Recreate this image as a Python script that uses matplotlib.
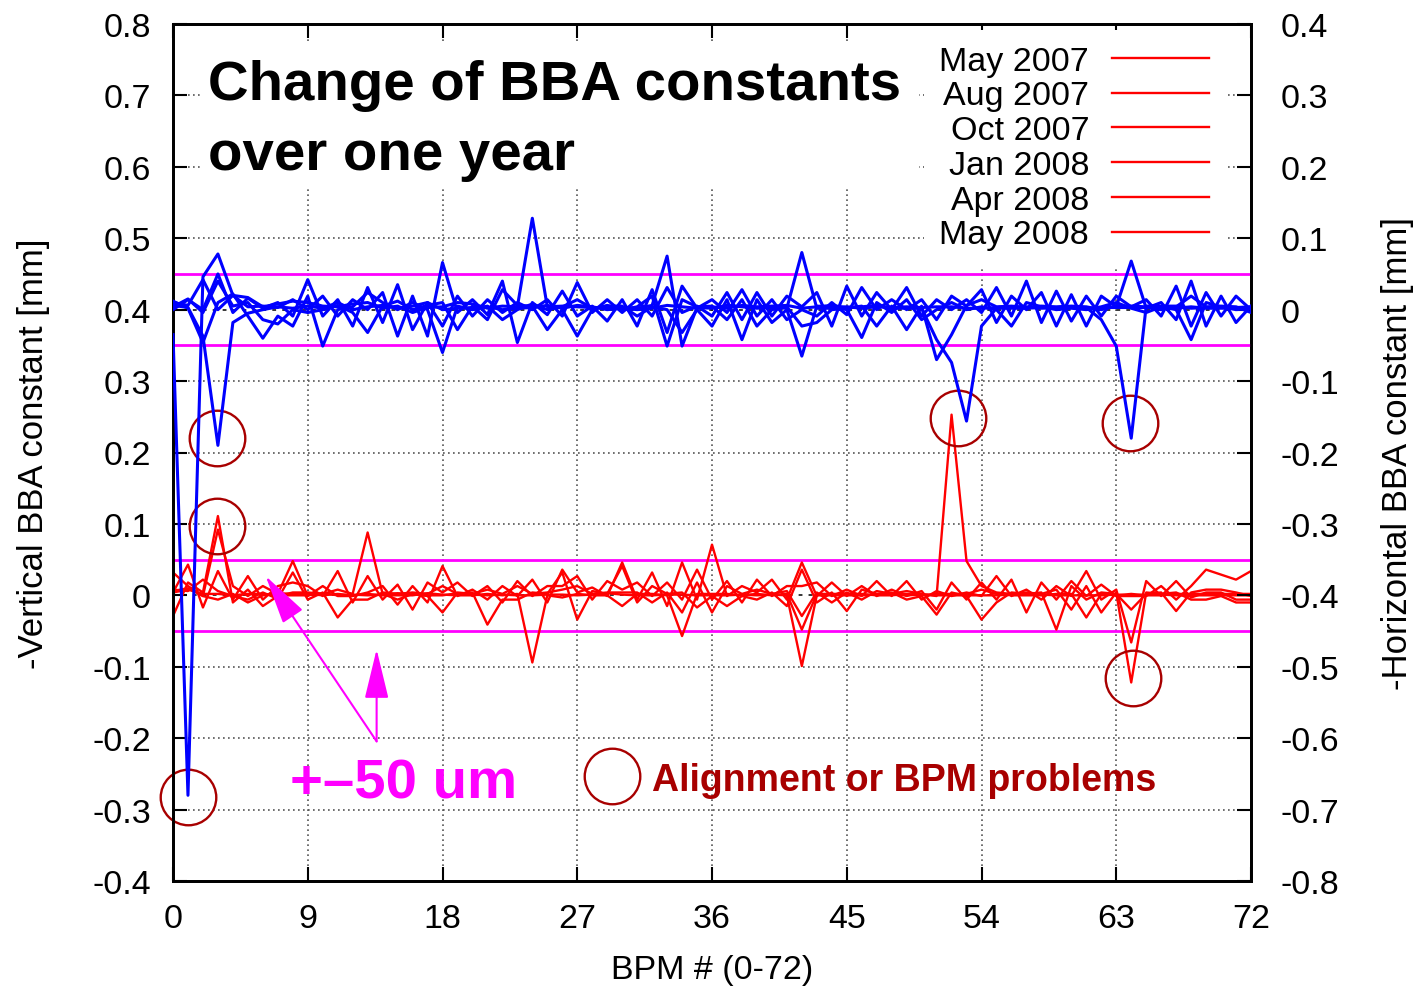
import numpy as np
import matplotlib
matplotlib.use("Agg")
import matplotlib.pyplot as plt
from matplotlib.patches import Rectangle

plt.rcParams["font.family"] = ["Liberation Sans", "DejaVu Sans"]
plt.rcParams["axes.unicode_minus"] = False

# BPM index along the ring
bpm = np.arange(73)

labels = ["May 2007", "Aug 2007", "Oct 2007", "Jan 2008", "Apr 2008", "May 2008"]

# -Vertical BBA constants [mm] (left axis)
vert_may07 = [0.032, 0.013, -0.001, 0.092, 0.013, -0.001, 0.013, 0.002, 0.048, -0.001,
              0.013, -0.001, -0.001, 0.004, 0.013, -0.013, 0.013, -0.010, 0.041, -0.001,
              0.008, -0.006, 0.013, -0.001, 0.022, -0.010, 0.036, 0.004, 0.011, -0.001,
              0.046, -0.006, 0.032, -0.015, 0.046, -0.006, 0.071, -0.001, 0.013, 0.004,
              0.022, -0.006, 0.046, -0.001, 0.018, -0.001, 0.013, -0.001, 0.008, -0.001,
              0.006, -0.020, 0.018, -0.006, 0.018, -0.006, 0.022, -0.024, 0.018, -0.006,
              0.020, -0.001, 0.015, -0.001, -0.001, -0.001, 0.013, -0.006, 0.013, 0.036,
              0.029, 0.022, 0.034]
vert_aug07 = [0.008, 0.006, 0.022, 0.006, -0.001, -0.006, 0.004, -0.005, 0.032, -0.006,
              0.004, -0.031, -0.006, -0.006, 0.004, 0.002, 0.004, 0.002, 0.013, 0.002,
              0.004, -0.041, -0.006, -0.006, 0.004, 0.002, 0.032, -0.034, 0.006, 0.002,
              0.041, -0.010, 0.013, 0.002, 0.004, -0.017, -0.001, -0.015, -0.001, -0.006,
              0.004, -0.015, 0.036, -0.010, 0.004, -0.022, 0.008, 0.002, 0.004, -0.006,
              -0.001, -0.027, 0.004, -0.001, -0.034, -0.010, 0.004, 0.002, 0.004, -0.048,
              0.013, -0.006, 0.004, 0.002, -0.020, 0.002, 0.004, -0.022, 0.004, 0.008,
              0.008, 0.004, -0.001]
vert_oct07 = [0.004, 0.043, -0.017, 0.034, -0.006, 0.027, -0.006, 0.013, 0.018, 0.013,
              -0.001, 0.034, -0.010, 0.027, -0.006, 0.015, -0.020, 0.018, 0.004, 0.018,
              -0.001, 0.013, -0.010, 0.020, -0.001, 0.013, 0.013, 0.027, -0.006, 0.020,
              0.008, 0.018, -0.001, 0.018, -0.006, 0.036, -0.006, 0.020, -0.010, 0.022,
              -0.001, 0.013, 0.013, 0.018, -0.001, 0.008, -0.001, 0.020, -0.001, 0.020,
              -0.006, 0.006, -0.001, 0.004, -0.001, 0.027, -0.001, 0.008, -0.006, 0.013,
              -0.001, 0.034, -0.006, 0.008, -0.066, 0.020, -0.001, 0.020, -0.003, 0.004,
              0.004, -0.006, -0.006]
vert_jan08 = [-0.029, 0.018, 0.004, 0.111, -0.010, 0.008, -0.015, -0.001, 0.004, 0.004,
              0.002, 0.008, 0.002, 0.088, 0.002, -0.006, 0.002, -0.001, -0.024, 0.004,
              0.002, 0.008, 0.002, 0.013, 0.002, 0.004, 0.008, 0.013, 0.002, 0.004,
              0.004, 0.004, -0.010, 0.004, -0.024, 0.018, -0.024, 0.013, 0.002, 0.008,
              0.002, 0.006, -0.029, 0.004, -0.010, 0.004, -0.006, 0.006, 0.002, 0.006,
              0.002, -0.001, 0.253, 0.048, 0.013, 0.004, 0.002, 0.004, 0.002, 0.008,
              -0.020, 0.013, -0.024, 0.004, -0.122, 0.004, 0.002, 0.004, -0.006, -0.006,
              -0.001, -0.010, -0.010]
vert_apr08 = [0.006, 0.010, -0.001, -0.006, 0.002, -0.010, 0.000, 0.003, 0.002, 0.002,
              0.000, 0.002, 0.000, 0.002, 0.000, 0.000, 0.000, 0.003, 0.001, 0.000,
              0.000, 0.002, 0.000, 0.002, -0.094, 0.000, -0.003, 0.002, 0.000, 0.000,
              -0.015, 0.002, 0.002, 0.000, -0.057, 0.002, 0.002, 0.002, 0.000, 0.002,
              0.000, 0.002, -0.048, 0.002, 0.002, 0.002, 0.002, 0.000, 0.000, 0.002,
              0.000, 0.002, 0.002, 0.002, 0.008, 0.002, 0.000, 0.000, 0.000, 0.002,
              0.002, -0.031, 0.002, 0.000, 0.002, 0.000, 0.000, 0.002, 0.002, 0.002,
              0.002, 0.002, 0.002]
vert_may08 = [0.004, 0.008, 0.002, 0.002, 0.000, 0.002, 0.002, 0.000, 0.000, 0.000,
              0.003, 0.000, 0.001, 0.000, 0.001, 0.003, 0.001, 0.000, 0.000, 0.003,
              0.001, 0.000, 0.001, 0.000, 0.000, 0.001, 0.001, 0.000, 0.001, 0.003,
              0.001, 0.000, 0.000, 0.001, 0.001, 0.000, 0.000, 0.000, 0.001, 0.000,
              0.001, 0.000, -0.099, 0.000, 0.000, 0.000, 0.000, 0.001, 0.001, 0.000,
              0.001, 0.000, 0.000, 0.000, 0.000, 0.000, 0.001, 0.001, 0.001, 0.000,
              0.000, 0.000, 0.000, 0.001, 0.000, 0.001, 0.001, 0.000, 0.000, 0.000,
              0.000, 0.000, 0.000]

# -Horizontal BBA constants [mm] (right axis)
horz_may07 = [0.010, 0.006, 0.042, 0.000, 0.020, 0.004, 0.005, 0.003, 0.014, 0.000,
              0.019, -0.009, 0.014, 0.000, 0.024, -0.037, 0.019, -0.037, 0.066, -0.004,
              0.014, -0.007, 0.040, -0.046, 0.010, -0.007, 0.026, -0.009, 0.005, -0.016,
              0.014, -0.023, 0.028, -0.032, 0.033, 0.002, 0.014, -0.004, 0.028, -0.009,
              0.014, -0.014, 0.000, -0.009, 0.010, -0.007, 0.031, 0.000, 0.014, 0.000,
              0.014, -0.014, 0.019, 0.005, 0.028, -0.018, 0.019, 0.000, 0.024, -0.023,
              0.021, -0.023, 0.019, 0.004, 0.068, 0.002, 0.010, -0.014, 0.040, -0.023,
              0.019, -0.018, 0.005]
horz_aug07 = [0.004, 0.015, -0.004, 0.040, 0.005, 0.010, -0.014, -0.020, 0.000, -0.004,
              0.000, 0.006, -0.004, -0.032, 0.005, 0.012, 0.000, 0.006, 0.010, -0.028,
              0.005, -0.014, 0.028, 0.006, 0.005, -0.028, 0.000, -0.037, 0.000, 0.006,
              0.000, 0.004, 0.019, -0.051, 0.014, 0.004, 0.005, -0.014, 0.014, -0.023,
              0.000, 0.004, -0.023, -0.018, 0.000, 0.002, 0.005, -0.023, 0.005, -0.028,
              0.005, -0.070, -0.035, 0.006, 0.014, 0.004, 0.005, 0.003, 0.005, 0.004,
              0.005, 0.004, 0.000, 0.005, 0.005, 0.004, 0.000, 0.004, 0.019, 0.004,
              0.005, 0.004, -0.004]
horz_oct07 = [0.000, 0.014, 0.000, 0.050, -0.004, 0.016, 0.002, 0.010, -0.009, 0.042,
              -0.009, 0.014, -0.023, 0.031, -0.018, 0.035, -0.028, 0.010, -0.023, 0.019,
              -0.009, 0.014, -0.004, 0.010, 0.000, 0.014, -0.009, 0.038, -0.004, 0.014,
              -0.004, 0.014, -0.009, 0.031, -0.004, 0.005, -0.009, 0.024, -0.014, 0.024,
              -0.009, 0.019, 0.004, 0.024, -0.023, 0.033, -0.009, 0.024, 0.000, 0.031,
              -0.009, 0.014, 0.000, 0.014, -0.004, 0.031, -0.009, 0.040, -0.018, 0.026,
              -0.016, 0.019, -0.009, 0.019, 0.004, 0.014, -0.009, 0.033, -0.023, 0.024,
              -0.009, 0.019, 0.000]
horz_jan08 = [0.012, 0.002, -0.046, 0.010, 0.022, -0.009, -0.040, -0.009, -0.023, 0.019,
              -0.051, 0.000, 0.004, 0.024, 0.010, 0.000, 0.010, 0.000, -0.060, 0.005,
              0.000, 0.005, -0.014, 0.000, 0.008, 0.000, 0.004, 0.014, 0.002, 0.005,
              0.005, -0.009, 0.004, 0.000, -0.032, 0.000, -0.023, 0.014, -0.042, 0.014,
              -0.018, 0.000, -0.065, 0.005, 0.004, 0.000, -0.039, 0.010, -0.004, 0.014,
              -0.014, 0.000, 0.010, 0.000, 0.004, 0.000, -0.023, 0.010, 0.004, 0.000,
              0.002, 0.000, 0.004, 0.010, 0.002, -0.004, 0.004, 0.000, -0.042, 0.010,
              0.004, 0.000, 0.002]
horz_apr08 = [-0.035, -0.680, 0.046, 0.078, 0.020, 0.017, 0.004, 0.008, 0.012, 0.010,
              0.005, 0.004, 0.008, 0.010, 0.002, 0.005, -0.004, 0.003, 0.004, 0.010,
              0.008, 0.002, 0.005, 0.004, 0.128, 0.004, 0.005, 0.004, 0.003, 0.002,
              0.003, 0.002, 0.006, 0.075, -0.051, 0.003, 0.002, 0.006, 0.004, 0.002,
              0.003, 0.002, 0.080, 0.002, 0.002, 0.004, 0.002, 0.004, 0.003, 0.004,
              0.003, 0.004, 0.004, 0.002, 0.002, 0.003, 0.004, 0.004, 0.002, 0.003,
              0.004, 0.002, 0.003, 0.003, 0.003, 0.003, 0.002, 0.002, 0.004, 0.002,
              0.002, 0.002, 0.003]
horz_may08 = [0.006, 0.003, -0.037, -0.190, -0.018, -0.005, 0.000, 0.004, 0.002, 0.005,
              0.002, 0.010, 0.000, 0.004, 0.006, 0.002, 0.005, 0.010, 0.000, 0.002,
              0.003, 0.004, 0.000, 0.002, 0.003, 0.006, 0.002, 0.006, 0.004, 0.000,
              0.002, 0.000, 0.002, 0.006, 0.004, 0.002, 0.004, 0.002, 0.006, 0.004,
              0.005, 0.006, 0.002, 0.004, 0.006, 0.003, 0.004, 0.006, 0.002, 0.002,
              0.002, -0.042, -0.074, -0.156, -0.023, 0.002, 0.002, 0.002, 0.003, 0.002,
              0.003, 0.003, -0.014, -0.051, -0.180, 0.005, 0.005, 0.005, 0.002, 0.003,
              0.003, 0.003, 0.004]

vertical = [vert_may07, vert_aug07, vert_oct07, vert_jan08, vert_apr08, vert_may08]
horizontal = [horz_may07, horz_aug07, horz_oct07, horz_jan08, horz_apr08, horz_may08]

# tolerance band +-50 um
tolerance = 0.05

# suspicious BPMs, marked with circles (left-axis coordinates)
problem_bpm = [1.0, 2.95, 2.95, 52.4, 63.9, 64.1]
problem_val = [-0.283, 0.221, 0.097, 0.249, 0.241, -0.116]

x_ticks = list(range(0, 73, 9))
left_ticks = [round(-0.4 + 0.1 * i, 1) + 0.0 for i in range(13)]
right_ticks = [round(-0.8 + 0.1 * i, 1) + 0.0 for i in range(13)]

RED = "#ff0000"
BLUE = "#0000ff"
MAGENTA = "#ff00ff"
DARKRED = "#a80000"

fig = plt.figure(figsize=(14.16, 9.87), dpi=100)
ax = fig.add_axes([173 / 1416, 105 / 987, 1078 / 1416, 857 / 987])
ax2 = ax.twinx()

ax.set_xlim(0, 72)
ax.set_ylim(-0.4, 0.8)
ax2.set_ylim(-0.8, 0.4)

# dotted grid
grid_kw = dict(color="#555555", lw=1.2, ls=(0, (1, 2)), zorder=0.5)
for xt in x_ticks[1:-1]:
    ax.axvline(xt, **grid_kw)
for yt in left_ticks[1:-1]:
    if abs(yt) < 1e-9 or abs(yt - 0.4) < 1e-9:
        continue
    ax.axhline(yt, **grid_kw)
# zero axes of both y scales
ax.axhline(0.0, color="black", lw=1.1, ls=(0, (2.5, 4)), zorder=0.6)
ax2.axhline(0.0, color="black", lw=1.1, ls=(0, (2.5, 4)), zorder=0.6)

# tolerance bands
ax.axhline(tolerance, color=MAGENTA, lw=2.0, zorder=1)
ax.axhline(-tolerance, color=MAGENTA, lw=2.0, zorder=1)
ax2.axhline(tolerance, color=MAGENTA, lw=2.0, zorder=1)
ax2.axhline(-tolerance, color=MAGENTA, lw=2.0, zorder=1)

handles = []
for series, lab in zip(vertical, labels):
    h, = ax.plot(bpm, series, color=RED, lw=1.7, zorder=2, label=lab)
    handles.append(h)
for series in horizontal:
    ax2.plot(bpm, series, color=BLUE, lw=2.2, zorder=3)

# circles around problematic readings
ax.plot(problem_bpm, problem_val, ls="none", marker="o", ms=40, mfc="none",
        mec=DARKRED, mew=1.7, zorder=4, clip_on=False)

# title block on an opaque background
ax.add_patch(Rectangle((0.025, 0.808), 0.667, 0.172, transform=ax.transAxes,
                       facecolor="white", edgecolor="none", zorder=5))
ax.text(2.35, 0.695, "Change of BBA constants", fontsize=40.6, fontweight="bold",
        color="black", ha="left", va="baseline", zorder=6)
ax.text(2.35, 0.597, "over one year", fontsize=40.6, fontweight="bold",
        color="black", ha="left", va="baseline", zorder=6)

ax.text(7.8, -0.283, "+\u201350 um", fontsize=40.6, fontweight="bold", color=MAGENTA,
        ha="left", va="baseline", zorder=6)
arrow_kw = dict(arrowstyle="-|>,head_length=31,head_width=7.5", mutation_scale=1,
                color=MAGENTA, lw=1.5, shrinkA=0, shrinkB=0)
ax.annotate("", xy=(6.19, 0.027), xytext=(13.6, -0.2045), arrowprops=arrow_kw, zorder=6)
ax.annotate("", xy=(13.6, -0.0756), xytext=(13.6, -0.2045), arrowprops=arrow_kw, zorder=6)

ax.plot([29.33], [-0.2535], ls="none", marker="o", ms=40, mfc="none", mec=DARKRED,
        mew=1.7, zorder=4)
ax.text(32.0, -0.273, "Alignment or BPM problems", fontsize=27, fontweight="bold",
        color=DARKRED, ha="left", va="baseline", zorder=6)

# legend
leg = ax.legend(handles=handles, loc="upper right",
                bbox_to_anchor=(1.0 - 6 / 1078, 1.0 + 14 / 857),
                markerfirst=False, fontsize=24.5, frameon=True, fancybox=False,
                framealpha=1.0, edgecolor="none", facecolor="white",
                handlelength=2.85, handletextpad=0.68, labelspacing=0.11,
                borderpad=0.45, borderaxespad=0.6)
leg.set_zorder(7)
for ln in leg.get_lines():
    ln.set_linewidth(1.7)

# axes, ticks and labels
ax.set_xticks(x_ticks)
ax.set_xticklabels([str(t) for t in x_ticks])
ax.set_yticks(left_ticks)
ax.set_yticklabels([f"{t:g}" for t in left_ticks])
ax2.set_yticks(right_ticks)
ax2.set_yticklabels([f"{t:g}" for t in right_ticks])

ax.tick_params(axis="x", direction="in", length=10, width=1.5, labelsize=24.5,
               pad=16, top=True)
ax.tick_params(axis="y", direction="in", length=10, width=1.5, labelsize=24.5,
               pad=16, right=False)
ax2.tick_params(axis="y", direction="in", length=10, width=1.5, labelsize=24.5,
                pad=21)

for a in (ax, ax2):
    for sp in a.spines.values():
        sp.set_linewidth(2.0)

ax.set_xlabel("BPM # (0-72)", fontsize=24.5, labelpad=14)
ax.set_ylabel("-Vertical BBA constant [mm]", fontsize=25, labelpad=30)
ax2.set_ylabel("-Horizontal BBA constant [mm]", fontsize=25, rotation=90, labelpad=30)

fig.savefig("out.png", dpi=100)
